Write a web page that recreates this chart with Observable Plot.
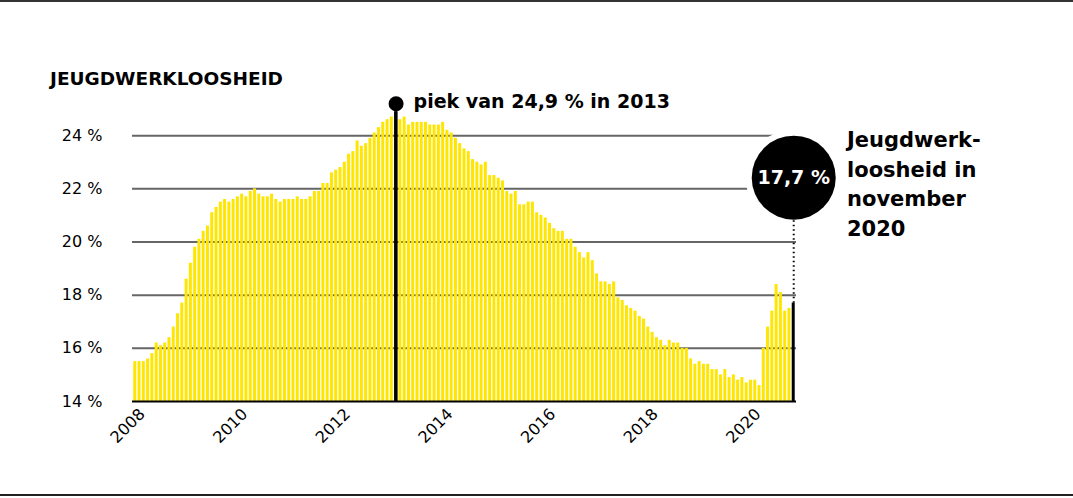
<!DOCTYPE html>
<html>
<head>
<meta charset="utf-8">
<script src="https://cdn.jsdelivr.net/npm/d3@7"></script>
<script src="https://cdn.jsdelivr.net/npm/@observablehq/plot@0.6"></script>
<style>
  body { margin: 0; background: #fff; }
  #wrap { position: relative; width: 1073px; height: 498px; overflow: hidden; font-family: "DejaVu Sans", sans-serif; background:#fff; }
  #topline { position: absolute; left: 0; top: 0; width: 1073px; height: 2px; background: #333; }
  #botline { position: absolute; left: 0; top: 494px; width: 1073px; height: 2px; background: #222; }
  #title { position: absolute; left: 50px; top: 70px; font-weight: bold; font-size: 18.5px; line-height: 18.5px; color: #000; white-space: nowrap; }
  #note { position: absolute; left: 847px; top: 126px; font-weight: bold; font-size: 21px; line-height: 29.5px; color: #000; white-space: pre; }
  #chart { position: absolute; left: 0; top: 0; }
</style>
</head>
<body>
<div id="wrap">
  <div id="chart"></div>
  <div id="topline"></div>
  <div id="botline"></div>
  <div id="title"></div>
  <div id="note"></div>
</div>
<script>
// ---- data ----
const titleText = "JEUGDWERKLOOSHEID";
const noteText = "Jeugdwerk-\nloosheid in\nnovember\n2020";
const peakLabel = "piek van 24,9 % in 2013";
const lastLabel = "17,7 %";

// monthly categories Jan 2008 – Nov 2020
const months = d3.utcMonths(new Date(Date.UTC(2008, 0, 1)), new Date(Date.UTC(2020, 11, 1)))
  .map(d => d3.utcFormat("%Y-%m")(d));

// youth unemployment (%)
const values = [
  15.5, 15.5, 15.5, 15.6, 15.8, 16.2, 16.1, 16.2, 16.4, 16.8, 17.3, 17.7,
  18.6, 19.2, 19.8, 20.1, 20.4, 20.6, 21.1, 21.3, 21.5, 21.6, 21.5, 21.6,
  21.7, 21.8, 21.7, 21.9, 22.0, 21.8, 21.7, 21.7, 21.8, 21.6, 21.5, 21.6,
  21.6, 21.6, 21.7, 21.6, 21.6, 21.7, 21.9, 21.9, 22.2, 22.2, 22.6, 22.7,
  22.8, 23.0, 23.3, 23.4, 23.8, 23.6, 23.7, 23.9, 24.1, 24.3, 24.5, 24.6,
  24.7, 24.9, 24.6, 24.7, 24.4, 24.5, 24.5, 24.5, 24.5, 24.4, 24.4, 24.4,
  24.5, 24.2, 24.1, 23.9, 23.7, 23.5, 23.4, 23.1, 23.0, 22.9, 23.0, 22.5,
  22.5, 22.4, 22.3, 21.9, 21.8, 21.9, 21.4, 21.4, 21.5, 21.5, 21.1, 21.0,
  20.9, 20.7, 20.5, 20.4, 20.4, 20.1, 20.1, 19.8, 19.6, 19.4, 19.6, 19.3,
  18.8, 18.5, 18.5, 18.4, 18.5, 17.9, 17.8, 17.6, 17.5, 17.4, 17.2, 17.1,
  16.8, 16.6, 16.4, 16.3, 16.1, 16.3, 16.2, 16.2, 16.0, 16.0, 15.6, 15.4,
  15.5, 15.4, 15.4, 15.2, 15.2, 15.0, 15.2, 14.9, 15.0, 14.8, 14.9, 14.7,
  14.8, 14.8, 14.6, 16.0, 16.8, 17.4, 18.4, 18.1, 17.4, 17.5, 17.7
];

const yTicks = [14, 16, 18, 20, 22, 24];
const xTickYears = ["2008", "2010", "2012", "2014", "2016", "2018", "2020"];

// ---- derived ----
const data = months.map((m, i) => ({ month: m, value: values[i] }));
const peak = data.reduce((a, b) => (b.value > a.value ? b : a));
const last = data[data.length - 1];
const calloutLevel = 22.42; // vertical level of the callout circle
const xTicks = xTickYears.map(y => ({ month: y + "-01", label: y }));

document.getElementById("title").textContent = titleText;
document.getElementById("note").textContent = noteText;

const yellow = "#ffe600";

const chart = Plot.plot({
  width: 1073,
  height: 498,
  marginLeft: 132,
  marginRight: 277,
  marginTop: 82,
  marginBottom: 97,
  style: { fontFamily: "DejaVu Sans, sans-serif", background: "transparent", overflow: "visible" },
  x: { type: "band", domain: months, padding: 0.3, axis: null },
  y: { domain: [14, 26], axis: null },
  marks: [
    Plot.ruleY(yTicks.filter(t => t > 14), { stroke: "#666", strokeWidth: 2 }),
    Plot.barY(data, {
      x: "month", y1: 14, y2: "value",
      fill: d => (d === peak || d === last ? "#000" : yellow)
    }),
    Plot.ruleY([14], { stroke: "#000", strokeWidth: 2 }),
    Plot.ruleX([peak], { x: "month", y1: 14, y2: "value", stroke: "#000", strokeWidth: 3 }),
    Plot.dot([peak], { x: "month", y: "value", r: 7.5, fill: "#000", dy: -8 }),
    Plot.text([peak], {
      x: "month", y: "value", text: () => peakLabel, dx: 17.5, dy: -10,
      textAnchor: "start", fontSize: 19, fontWeight: "bold", fill: "#000"
    }),
    Plot.dot([last], { x: "month", y: () => calloutLevel, r: 48, fill: "#fff" }),
    Plot.ruleX([last], {
      x: "month", y1: "value", y2: () => calloutLevel,
      stroke: "#000", strokeWidth: 2, strokeDasharray: "1.5,3"
    }),
    Plot.dot([last], { x: "month", y: () => calloutLevel, r: 42, fill: "#000" }),
    Plot.text([last], {
      x: "month", y: () => calloutLevel, text: () => lastLabel,
      fontSize: 19, fontWeight: "bold", fill: "#fff"
    }),
    Plot.text(xTicks, {
      x: "month", y: () => 14, text: "label", rotate: -45, textAnchor: "end",
      dx: 7, dy: 10, fontSize: 16, fill: "#000"
    }),
    Plot.text(yTicks, {
      y: d => d, text: d => `${d} %`, frameAnchor: "left", textAnchor: "end",
      dx: -30, fontSize: 16, fill: "#000"
    })
  ]
});
document.getElementById("chart").appendChild(chart);
</script>
</body>
</html>
